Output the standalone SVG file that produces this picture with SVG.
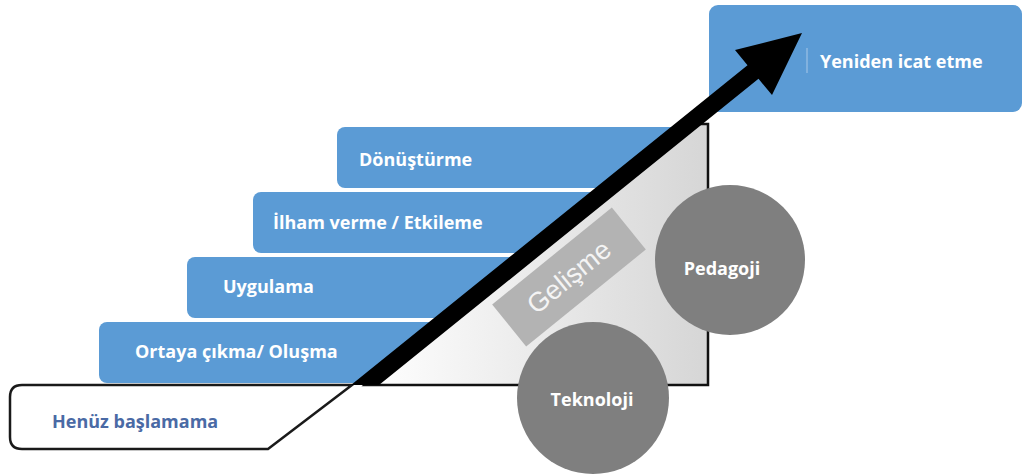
<svg xmlns="http://www.w3.org/2000/svg" width="1024" height="476" viewBox="0 0 1024 476">
<defs>
<style>
.step{fill:#5b9bd5;}
.lbl{font-family:"Open Sans","Liberation Sans",sans-serif;font-weight:700;font-size:18px;fill:#ffffff;}
.dark{fill:#4a6aa5;}
.circ{fill:#7f7f7f;}
</style>
<linearGradient id="tri" x1="0" y1="0" x2="1" y2="0">
<stop offset="0" stop-color="#ffffff"/>
<stop offset="1" stop-color="#d6d6d6"/>
</linearGradient>
</defs>
<rect width="1024" height="476" fill="#ffffff"/>
<g id="yeniden">
<rect class="step" x="709" y="5" width="313" height="107" rx="9"/>
<line x1="807" y1="48" x2="807" y2="73" stroke="#a9c8e8" stroke-width="1"/>
<text class="lbl" x="820" y="68">Yeniden icat etme</text>
</g>
<g id="donusturme">
<rect class="step" x="337" y="127" width="365" height="61" rx="8"/>
<text class="lbl" x="359" y="166">Dönüştürme</text>
</g>
<g id="ilham">
<rect class="step" x="253" y="192" width="449" height="61" rx="8"/>
<text class="lbl" x="273" y="229">İlham verme / Etkileme</text>
</g>
<g id="uygulama">
<rect class="step" x="187" y="257" width="515" height="61" rx="8"/>
<text class="lbl" x="223" y="293">Uygulama</text>
</g>
<g id="ortaya">
<rect class="step" x="99" y="322" width="603" height="61" rx="8"/>
<text class="lbl" x="135" y="358">Ortaya çıkma/ Oluşma</text>
</g>
<g id="henuz">
<path d="M22,385 H352 L268,449 H22 Q10,449 10,437 V397 Q10,385 22,385 Z" fill="#ffffff" stroke="#1a1a1a" stroke-width="2.5"/>
<text class="lbl dark" x="52" y="428">Henüz başlamama</text>
</g>
<g id="gelisme-alan">
<polygon points="365,385 688,124 708,124 708,385" fill="url(#tri)" stroke="#111111" stroke-width="2.5"/>
<g transform="translate(569,277) rotate(-39)">
<rect x="-77" y="-27" width="154" height="54" fill="#b3b3b3"/>
<text x="0" y="9" text-anchor="middle" font-family="'Liberation Sans',Arial,sans-serif" font-size="27" fill="#f4f4f4">Gelişme</text>
</g>
</g>
<g id="pedagoji">
<circle class="circ" cx="730" cy="260" r="75"/>
<text class="lbl" x="722" y="275" text-anchor="middle">Pedagoji</text>
</g>
<g id="teknoloji">
<circle class="circ" cx="593" cy="398" r="76"/>
<text class="lbl" x="592" y="406" text-anchor="middle">Teknoloji</text>
</g>
<g id="connectors">
<polygon points="351,385 379,385 758.5,78.8 772,95 802,33 735,50 747.5,65.2" fill="#000000"/>
</g>
</svg>
